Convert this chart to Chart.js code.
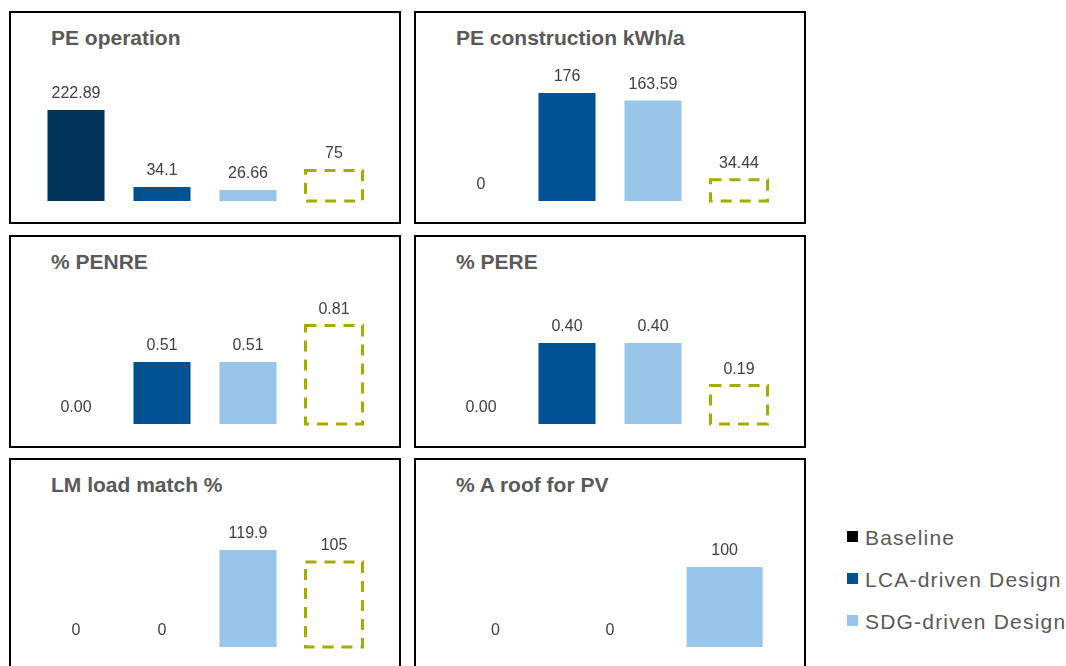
<!DOCTYPE html>
<html>
<head>
<meta charset="utf-8">
<script src="https://cdn.jsdelivr.net/npm/chart.js@4/dist/chart.umd.min.js"></script>
<style>
  html, body { margin: 0; padding: 0; background: #fff; }
  body { width: 1066px; height: 666px; position: relative; overflow: hidden; font-family: "Liberation Sans", Arial, sans-serif; }
  .panel { position: absolute; box-sizing: border-box; width: 392px; border: 2px solid #000; }
  .title { position: absolute; font-weight: bold; font-size: 21px; line-height: 21px; color: #595959; white-space: nowrap; }
  canvas { position: absolute; }
  .leg { position: absolute; left: 847px; font-size: 21px; line-height: 21px; letter-spacing: 1.2px; color: #595959; white-space: nowrap; }
  .leg span { position: absolute; left: 0; width: 11px; height: 11px; }
  .leg b { position: absolute; left: 18px; top: 0; font-weight: normal; }
</style>
</head>
<body>
<div id="root"></div>
<script>
// categorie e valori
const categories = ['Baseline', 'LCA-driven Design', 'SDG-driven Design', 'Target'];
const titles = ['PE operation', 'PE construction kWh/a', '% PENRE', '% PERE', 'LM load match %', '% A roof for PV'];

const peOperation    = [222.89, 34.1, 26.66, 75];
const peConstruction = [0, 176, 163.59, 34.44];
const penre          = [0, 0.51, 0.51, 0.81];
const pere           = [0, 0.40, 0.40, 0.19];
const loadMatch      = [0, 0, 119.9, 105];
const roofPV         = [0, 0, 100];

// massimo asse y di ogni pannello (ogni pannello ha la sua scala)
const axisMax  = [458, 304.7, 1.53, 0.9185, 229.9, 232.5];
const decimals = [null, null, 2, 2, null, null];

const COL_BASE = '#003359';
const COL_LCA  = '#005293';
const COL_SDG  = '#98C6EA';
const COL_TGT  = '#A2AD00';

const series = [peOperation, peConstruction, penre, pere, loadMatch, roofPV];
const panelLeft = [9, 414];
const panelTop  = [11, 235, 458];
const baseLine  = [201, 424, 647];
const PAD_BOTTOM = 4; // spazio sotto l'area per il bordo tratteggiato

// rettangolo tratteggiato per il target
const targetBox = {
    id: 'targetBox',
    afterDatasetsDraw(chart) {
        const meta = chart.getDatasetMeta(0);
        const ctx = chart.ctx;
        meta.data.forEach((el, i) => {
            if (chart.data.labels[i] !== 'Target') return;
            const w = el.width;
            ctx.save();
            ctx.strokeStyle = COL_TGT;
            ctx.lineWidth = 3;
            ctx.setLineDash([11, 8]);
            ctx.strokeRect(el.x - w / 2, el.y, w, el.base - el.y);
            ctx.restore();
        });
    }
};

// etichette dei valori sopra le barre
const valueLabels = {
    id: 'valueLabels',
    afterDatasetsDraw(chart, args, opts) {
        const meta = chart.getDatasetMeta(0);
        const ctx = chart.ctx;
        const data = chart.data.datasets[0].data;
        ctx.save();
        ctx.font = '16px "Liberation Sans", Arial, sans-serif';
        ctx.fillStyle = '#404040';
        ctx.textAlign = 'center';
        ctx.textBaseline = 'alphabetic';
        meta.data.forEach((el, i) => {
            const v = data[i];
            const txt = opts.decimals ? v.toFixed(opts.decimals) : String(v);
            ctx.fillText(txt, el.x, el.y - 12);
        });
        ctx.restore();
    }
};

const root = document.getElementById('root');

series.forEach((vals, p) => {
    const col = p % 2, row = Math.floor(p / 2);
    const L = panelLeft[col], T = panelTop[row];

    const panel = document.createElement('div');
    panel.className = 'panel';
    panel.style.left = L + 'px';
    panel.style.top = T + 'px';
    panel.style.height = (row === 2 ? 230 : 213) + 'px';
    root.appendChild(panel);

    const title = document.createElement('div');
    title.className = 'title';
    title.textContent = titles[p];
    title.style.left = (L + 42) + 'px';
    title.style.top = (T + 16) + 'px';
    root.appendChild(title);

    const cv = document.createElement('canvas');
    const top = T + 3;
    const h = baseLine[row] - top + PAD_BOTTOM;
    cv.width = 344; cv.height = h;
    cv.style.left = (L + 24) + 'px';
    cv.style.top = top + 'px';
    cv.style.width = '344px'; cv.style.height = h + 'px';
    root.appendChild(cv);

    const labels = categories.slice(0, vals.length);
    new Chart(cv.getContext('2d'), {
        type: 'bar',
        data: {
            labels: labels,
            datasets: [{
                data: vals,
                backgroundColor: [COL_BASE, COL_LCA, COL_SDG, 'rgba(0,0,0,0)'],
                borderWidth: 0,
                categoryPercentage: 1,
                barPercentage: 0.663
            }]
        },
        options: {
            responsive: false,
            animation: false,
            devicePixelRatio: 1,
            layout: { padding: { top: 0, left: 0, right: 0, bottom: PAD_BOTTOM } },
            plugins: {
                legend: { display: false },
                tooltip: { enabled: false },
                valueLabels: { decimals: decimals[p] }
            },
            scales: {
                x: { display: false },
                y: { display: false, min: 0, max: axisMax[p] }
            }
        },
        plugins: [targetBox, valueLabels]
    });
});

// legenda
const legendColors = ['#000000', COL_LCA, COL_SDG];
const legendCenters = [537, 579, 621];
categories.slice(0, 3).forEach((name, i) => {
    const d = document.createElement('div');
    d.className = 'leg';
    d.style.top = (legendCenters[i] - 10) + 'px';
    d.innerHTML = '<span></span><b></b>';
    d.querySelector('span').style.background = legendColors[i];
    d.querySelector('span').style.top = '4px';
    d.querySelector('b').textContent = name;
    root.appendChild(d);
});
</script>
</body>
</html>
